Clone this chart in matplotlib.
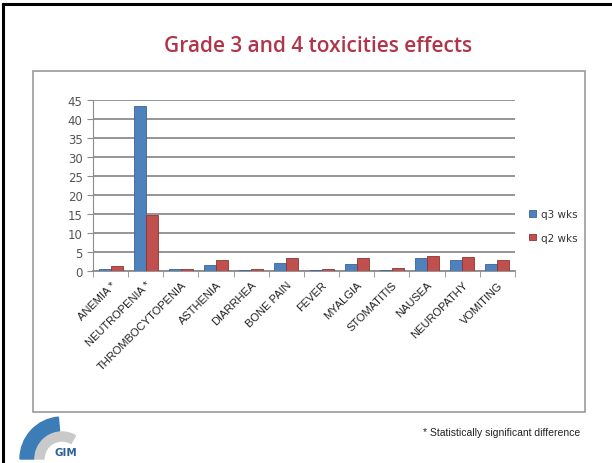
import matplotlib
matplotlib.use("Agg")
import matplotlib.pyplot as plt
import numpy as np
from matplotlib.patches import Rectangle, Wedge

categories = ["ANEMIA *", "NEUTROPENIA *", "THROMBOCYTOPENIA", "ASTHENIA", "DIARRHEA",
              "BONE PAIN", "FEVER", "MYALGIA", "STOMATITIS", "NAUSEA", "NEUROPATHY", "VOMITING"]
q3_wks = [0.5, 43.3, 0.4, 1.7, 0.3, 2.2, 0.3, 1.8, 0.3, 3.4, 3.0, 1.9]
q2_wks = [1.4, 14.8, 0.5, 3.0, 0.5, 3.5, 0.5, 3.3, 0.7, 4.0, 3.7, 2.8]
series_names = ["q3 wks", "q2 wks"]
y_ticks = [0, 5, 10, 15, 20, 25, 30, 35, 40, 45]

W, H = 612, 464
fig = plt.figure(figsize=(W / 100, H / 100), dpi=100)
fig.patch.set_facecolor("white")

def fx(px):
    return px / W

def fy(py):
    return 1 - py / H

# slide frame
fig.add_artist(plt.Line2D([fx(3), fx(612)], [fy(5), fy(5)], color="black", lw=2.2))
fig.add_artist(plt.Line2D([fx(3), fx(3)], [fy(5), fy(464)], color="black", lw=2.2))

# chart box
fig.add_artist(Rectangle((fx(33), fy(413)), fx(585) - fx(33), fy(72) - fy(413),
                         transform=fig.transFigure, fill=False, ec="#9a9a9a", lw=1.2))

fig.text(fx(318), fy(47), "Grade 3 and 4 toxicities effects", ha="center", va="center",
         fontsize=15, color="#B0344A", family="Open Sans", fontweight="semibold")

ax = fig.add_axes([fx(93), fy(272), fx(515) - fx(93), fy(101) - fy(272)])
x = np.arange(len(categories))
bw = 0.34
ax.bar(x - bw / 2, q3_wks, bw, color="#4F81BD", edgecolor="#3A6496", lw=0.6,
       label=series_names[0], zorder=3)
ax.bar(x + bw / 2, q2_wks, bw, color="#C0504D", edgecolor="#8E3431", lw=0.6,
       label=series_names[1], zorder=3)

ax.set_xlim(-0.5, len(categories) - 0.5)
ax.set_ylim(0, 45)
ax.set_yticks(y_ticks)
ax.yaxis.grid(True, color="#8c8c8c", lw=1.3)
ax.set_axisbelow(True)
for s in ["top", "right"]:
    ax.spines[s].set_visible(False)
ax.spines["left"].set_color("#8c8c8c")
ax.spines["bottom"].set_color("#8c8c8c")
ax.spines["bottom"].set_linewidth(1.3)
ax.tick_params(axis="y", labelsize=8.5, colors="#8c8c8c", labelcolor="#555555",
               direction="out", length=4)
ax.set_xticks(np.arange(len(categories) + 1) - 0.5, minor=True)
ax.set_xticks(x)
ax.set_xticklabels(categories, rotation=45, ha="right", rotation_mode="anchor",
                   fontsize=8, color="#222222", family="Liberation Sans")
ax.tick_params(axis="x", which="major", length=0, pad=6)
ax.tick_params(axis="x", which="minor", length=4, colors="#8c8c8c")

leg = fig.legend(loc="center left", bbox_to_anchor=(fx(520), fy(227)), frameon=False,
                 fontsize=7.5, handlelength=0.6, handleheight=0.6, labelspacing=1.3,
                 handletextpad=0.5)
for t in leg.get_texts():
    t.set_color("#333333")

fig.text(fx(580), fy(433), "* Statistically significant difference", ha="right",
         va="center", fontsize=7.5, color="#222222", family="Liberation Sans")

# logo
lax = fig.add_axes([fx(18), fy(462), fx(80) - fx(18), fy(412) - fy(462)])
lax.set_xlim(0, 62)
lax.set_ylim(0, 50)
lax.axis("off")
lax.add_patch(Wedge((44, 2), 42, 95, 180, width=14, color="#3C7DB8"))
lax.add_patch(Wedge((44, 2), 27, 60, 180, width=9, color="#C9C9C9"))
lax.text(48, 6, "GIM", fontsize=7.5, color="#2E5F96", fontweight="bold", ha="center")

fig.savefig("out.png", dpi=100)
